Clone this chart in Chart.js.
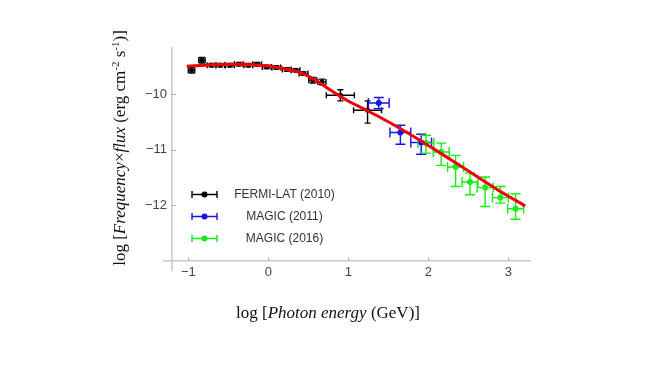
<!DOCTYPE html>
<html>
<head>
<meta charset="utf-8">
<script src="https://cdn.jsdelivr.net/npm/chart.js@4.4.1/dist/chart.umd.min.js"></script>
<style>
  html, body { margin: 0; padding: 0; background: #fff; }
</style>
</head>
<body>
<canvas id="chart" width="654" height="368"></canvas>
<script>
const xTicks = [-1, 0, 1, 2, 3];
const yTicks = [-12, -11, -10];

// FERMI-LAT (2010)
const fermiX = [-0.96, -0.83, -0.71, -0.60, -0.48, -0.37, -0.25, -0.14, -0.02, 0.10, 0.23, 0.34, 0.44, 0.555, 0.67, 0.90, 1.24];
const fermiY = [-9.57, -9.39, -9.48, -9.48, -9.48, -9.46, -9.48, -9.46, -9.51, -9.52, -9.555, -9.57, -9.63, -9.75, -9.78, -10.02, -10.29];
const fermiXErr = [0.04, 0.04, 0.055, 0.055, 0.055, 0.055, 0.055, 0.055, 0.055, 0.055, 0.055, 0.055, 0.055, 0.05, 0.05, 0.175, 0.175];
const fermiYUp = [0.05, 0.05, 0.03, 0.03, 0.03, 0.03, 0.03, 0.03, 0.03, 0.03, 0.03, 0.03, 0.03, 0.05, 0.05, 0.10, 0.17];
const fermiYDown = [0.05, 0.05, 0.03, 0.03, 0.03, 0.03, 0.03, 0.03, 0.03, 0.03, 0.03, 0.03, 0.03, 0.05, 0.05, 0.10, 0.23];

// MAGIC (2011)
const magic11X = [1.38, 1.65, 1.91];
const magic11Y = [-10.16, -10.69, -10.87];
const magic11XErr = [0.13, 0.13, 0.13];
const magic11YUp = [0.10, 0.13, 0.15];
const magic11YDown = [0.10, 0.21, 0.21];

// MAGIC (2016)
const magic16X = [1.97, 2.16, 2.34, 2.52, 2.71, 2.90, 3.09];
const magic16Y = [-10.88, -11.04, -11.31, -11.58, -11.68, -11.86, -12.06];
const magic16XErr = [0.10, 0.10, 0.10, 0.10, 0.10, 0.10, 0.10];
const magic16YUp = [0.14, 0.16, 0.21, 0.16, 0.19, 0.20, 0.27];
const magic16YDown = [0.18, 0.24, 0.35, 0.23, 0.34, 0.10, 0.19];

// model curve (red)
const modelX = [-1.02, -0.7, -0.4, -0.1, 0.15, 0.4, 0.6, 0.78, 0.98, 1.2, 1.4, 1.77, 2.15, 2.52, 2.9, 3.21];
const modelY = [-9.50, -9.47, -9.46, -9.48, -9.53, -9.61, -9.76, -9.93, -10.11, -10.27, -10.42, -10.72, -11.06, -11.40, -11.75, -12.01];

const series = [
    {label: 'FERMI-LAT (2010)', color: '#000000', x: fermiX, y: fermiY, xErr: fermiXErr, yUp: fermiYUp, yDown: fermiYDown, cap: 3, r: 2.5},
    {label: 'MAGIC (2011)', color: '#1414ee', x: magic11X, y: magic11Y, xErr: magic11XErr, yUp: magic11YUp, yDown: magic11YDown, cap: 5, r: 3},
    {label: 'MAGIC (2016)', color: '#14ee14', x: magic16X, y: magic16Y, xErr: magic16XErr, yUp: magic16YUp, yDown: magic16YDown, cap: 5, r: 3}
];

const AXIS_COLOR = '#c8c8c8';
const TICK_FONT = {family: 'Liberation Sans', size: 13};

function fmt(v){
    return String(v).replace('-', '\u2212');
}

function toPoints(xs, ys){
    return xs.map((v, i) => ({x: v, y: ys[i]}));
}

const errorBars = {
    id: 'errorBars',
    beforeDatasetsDraw(chart){
        const {ctx, scales: {x, y}} = chart;
        series.forEach(s => {
            ctx.save();
            ctx.strokeStyle = s.color;
            ctx.lineWidth = 1.4;
            s.x.forEach((xv, i) => {
                const px = x.getPixelForValue(xv);
                const py = y.getPixelForValue(s.y[i]);
                const x0 = x.getPixelForValue(xv - s.xErr[i]);
                const x1 = x.getPixelForValue(xv + s.xErr[i]);
                const y0 = y.getPixelForValue(s.y[i] + s.yUp[i]);
                const y1 = y.getPixelForValue(s.y[i] - s.yDown[i]);
                ctx.beginPath();
                ctx.moveTo(x0, py); ctx.lineTo(x1, py);
                ctx.moveTo(px, y0); ctx.lineTo(px, y1);
                ctx.moveTo(x0, py - s.cap); ctx.lineTo(x0, py + s.cap);
                ctx.moveTo(x1, py - s.cap); ctx.lineTo(x1, py + s.cap);
                ctx.moveTo(px - s.cap, y0); ctx.lineTo(px + s.cap, y0);
                ctx.moveTo(px - s.cap, y1); ctx.lineTo(px + s.cap, y1);
                ctx.stroke();
            });
            ctx.restore();
        });
    }
};

function drawRich(ctx, parts, cx, cy){
    let total = 0;
    parts.forEach(p => {
        ctx.font = p.font;
        p.w = ctx.measureText(p.text).width;
        total += p.w;
    });
    let xPos = cx - total / 2;
    parts.forEach(p => {
        ctx.font = p.font;
        ctx.fillText(p.text, xPos, cy + (p.dy || 0));
        xPos += p.w;
    });
}

const decorations = {
    id: 'decorations',
    afterDraw(chart){
        const {ctx, chartArea, scales: {x, y}} = chart;
        ctx.save();

        // axis stubs past the crossing, and inner tick marks
        ctx.strokeStyle = AXIS_COLOR;
        ctx.lineWidth = 1.5;
        ctx.beginPath();
        ctx.moveTo(chartArea.left, chartArea.bottom);
        ctx.lineTo(chartArea.left, chartArea.bottom + 10);
        ctx.moveTo(chartArea.left, chartArea.bottom);
        ctx.lineTo(chartArea.left - 9, chartArea.bottom);
        ctx.stroke();

        ctx.strokeStyle = '#b0b0b0';
        ctx.lineWidth = 1;
        ctx.beginPath();
        xTicks.forEach(v => {
            const px = Math.round(x.getPixelForValue(v)) + 0.5;
            ctx.moveTo(px, chartArea.bottom);
            ctx.lineTo(px, chartArea.bottom - 4);
        });
        yTicks.forEach(v => {
            const py = Math.round(y.getPixelForValue(v)) + 0.5;
            ctx.moveTo(chartArea.left, py);
            ctx.lineTo(chartArea.left + 4, py);
        });
        ctx.stroke();

        // legend
        ctx.textAlign = 'center';
        ctx.textBaseline = 'middle';
        series.forEach((s, i) => {
            const ly = 194.5 + i * 22;
            ctx.strokeStyle = s.color;
            ctx.fillStyle = s.color;
            ctx.lineWidth = 1.4;
            ctx.beginPath();
            ctx.moveTo(192, ly); ctx.lineTo(217, ly);
            ctx.moveTo(192, ly - 3.5); ctx.lineTo(192, ly + 3.5);
            ctx.moveTo(217, ly - 3.5); ctx.lineTo(217, ly + 3.5);
            ctx.stroke();
            ctx.beginPath();
            ctx.arc(204.5, ly, 3, 0, 2 * Math.PI);
            ctx.fill();
            ctx.fillStyle = '#333333';
            ctx.font = '12px "Liberation Sans"';
            ctx.fillText(s.label, 284.5, ly);
        });

        // axis titles
        ctx.fillStyle = '#111111';
        ctx.textAlign = 'left';
        ctx.textBaseline = 'alphabetic';
        const norm = '17px "Liberation Serif"';
        const ital = 'italic 17px "Liberation Serif"';
        const sup = '11px "Liberation Serif"';
        drawRich(ctx, [
            {text: 'log [', font: norm},
            {text: 'Photon energy', font: ital},
            {text: ' (GeV)]', font: norm}
        ], 328, 318);

        ctx.translate(125, 148);
        ctx.rotate(-Math.PI / 2);
        drawRich(ctx, [
            {text: 'log [', font: norm},
            {text: 'Frequency', font: ital},
            {text: '\u00d7', font: norm},
            {text: 'flux', font: ital},
            {text: ' (erg cm', font: norm},
            {text: '-2', font: sup, dy: -6},
            {text: ' s', font: norm},
            {text: '-1', font: sup, dy: -6},
            {text: ')]', font: norm}
        ], 0, 0);
        ctx.restore();
    }
};

new Chart('chart', {
    type: 'scatter',
    data: {
        datasets: [
            {
                label: 'model',
                data: toPoints(modelX, modelY),
                showLine: true,
                borderColor: '#f00000',
                borderWidth: 3,
                pointRadius: 0,
                cubicInterpolationMode: 'monotone',
                order: 0
            },
            ...series.map(s => ({
                label: s.label,
                data: toPoints(s.x, s.y),
                backgroundColor: s.color,
                borderColor: s.color,
                pointRadius: s.r,
                borderWidth: 0,
                order: 1
            }))
        ]
    },
    options: {
        responsive: false,
        animation: false,
        devicePixelRatio: 1,
        layout: {padding: {top: 48, right: 124, bottom: 0, left: 0}},
        plugins: {
            legend: {display: false},
            tooltip: {enabled: false}
        },
        scales: {
            x: {
                type: 'linear',
                min: -1.204,
                max: 3.27,
                afterBuildTicks: s => { s.ticks = xTicks.map(v => ({value: v})); },
                afterFit: s => { s.height = 107; },
                grid: {display: false, drawTicks: false},
                border: {display: true, color: AXIS_COLOR, width: 1.5},
                ticks: {color: '#444444', font: TICK_FONT, padding: 4, callback: v => fmt(v)}
            },
            y: {
                type: 'linear',
                min: -13.0,
                max: -9.17,
                afterBuildTicks: s => { s.ticks = yTicks.map(v => ({value: v})); },
                afterFit: s => { s.width = 172; },
                grid: {display: false, drawTicks: false},
                border: {display: true, color: AXIS_COLOR, width: 1.5},
                ticks: {color: '#444444', font: TICK_FONT, padding: 5, callback: v => fmt(v)}
            }
        }
    },
    plugins: [errorBars, decorations]
});
</script>
</body>
</html>
